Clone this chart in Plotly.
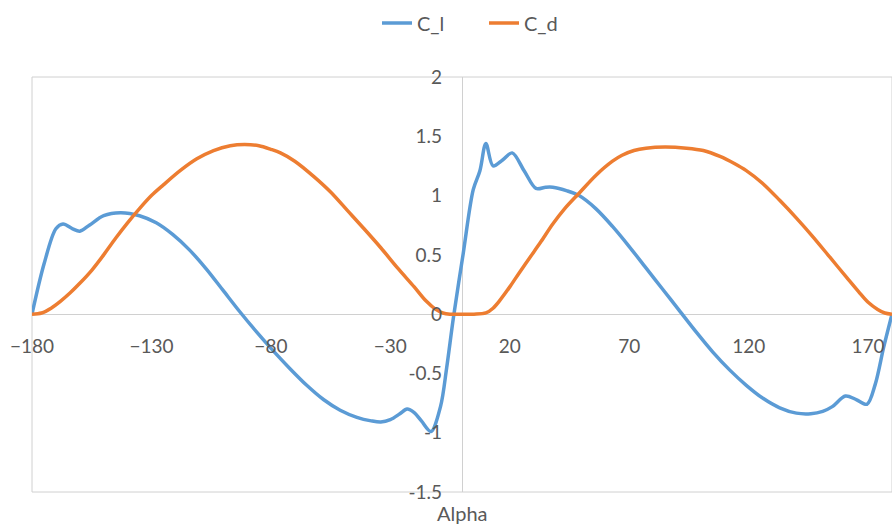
import plotly.graph_objects as go

# ---- data ----
alpha_cl = [-180, -175, -170, -167, -163, -160, -156, -150, -143, -135, -128, -121, -114, -107,
            -100, -93, -86, -79, -72, -65, -58, -51, -44, -38, -34, -30, -26, -23, -20, -17, -13,
            -9, -6.4, -3.6, 0.5, 4.7, 7.5, 10, 13, 17, 21, 26, 31, 35, 38, 44, 49, 56, 63, 70, 77,
            84, 91, 98, 105, 112, 119, 126, 133, 140, 146, 151, 155, 160.5, 165, 169.5, 173, 176.5, 180]
cl = [0, 0.42, 0.72, 0.76, 0.72, 0.70, 0.75, 0.83, 0.855, 0.83, 0.77, 0.67, 0.54, 0.38,
      0.20, 0.02, -0.15, -0.31, -0.46, -0.60, -0.72, -0.81, -0.87, -0.90, -0.91, -0.89, -0.84, -0.80, -0.83, -0.90, -0.99,
      -0.78, -0.45, -0.03, 0.51, 1.05, 1.21, 1.44, 1.25, 1.30, 1.36, 1.21, 1.06, 1.07, 1.07, 1.04, 1.00, 0.89, 0.74, 0.57, 0.39,
      0.21, 0.03, -0.15, -0.32, -0.47, -0.60, -0.71, -0.79, -0.835, -0.84, -0.82, -0.78, -0.69, -0.72, -0.76, -0.59, -0.28, 0]

alpha_cd = [-180, -176, -172, -168, -164, -160, -155, -150, -145, -140, -135, -130, -125, -118,
            -111, -104, -97, -91, -85, -80, -76, -70, -62, -55, -48, -41, -34, -27, -20, -15,
            -11, -8, -5, 0, 5, 10, 13, 16, 20, 24, 28.5, 33, 38, 43, 49, 56, 63, 67, 72, 77, 85, 94,
            101, 108, 114, 119, 126, 133, 140, 147, 154, 161, 166, 170, 174, 177, 180]
cd = [0, 0.01, 0.05, 0.11, 0.18, 0.26, 0.37, 0.50, 0.64, 0.77, 0.89, 1.00, 1.09, 1.21,
      1.31, 1.38, 1.42, 1.43, 1.42, 1.39, 1.36, 1.29, 1.16, 1.03, 0.875, 0.72, 0.56, 0.39, 0.23, 0.11,
      0.04, 0.01, 0, 0, 0, 0.01, 0.05, 0.12, 0.23, 0.35, 0.48, 0.61, 0.76, 0.89, 1.02, 1.17, 1.29, 1.34, 1.38, 1.40, 1.41, 1.40,
      1.38, 1.33, 1.27, 1.21, 1.10, 0.96, 0.81, 0.65, 0.48, 0.31, 0.19, 0.10, 0.04, 0.01, 0]

x_ticks = [-180, -130, -80, -30, 20, 70, 120, 170]
y_ticks = [-1.5, -1, -0.5, 0, 0.5, 1, 1.5, 2]
y_tick_labels = ["-1.5", "-1", "-0.5", "0", "0.5", "1", "1.5", "2"]

GREY = "#595959"
AXIS = "#D0D0D0"
FONT = "Lato"

fig = go.Figure()
fig.add_trace(go.Scatter(x=alpha_cl, y=cl, name="C_l", mode="lines",
                         line=dict(color="#5B9BD5", width=3.5, shape="spline", smoothing=0.9)))
fig.add_trace(go.Scatter(x=alpha_cd, y=cd, name="C_d", mode="lines",
                         line=dict(color="#ED7D31", width=3.5, shape="spline", smoothing=0.9)))

fig.update_layout(
    width=892, height=529,
    margin=dict(l=32, r=0, t=77, b=37),
    paper_bgcolor="white", plot_bgcolor="white",
    font=dict(family=FONT, size=16, color=GREY),
    showlegend=True,
    legend=dict(orientation="h", x=(377 - 32) / 860, xanchor="left", y=1.13, yanchor="middle",
                font=dict(size=20, color=GREY), entrywidth=62, entrywidthmode="pixels"),
    xaxis=dict(range=[-180, 180], tickvals=x_ticks, showgrid=False,
               zeroline=True, zerolinecolor=AXIS, zerolinewidth=1,
               showline=False, anchor="free", position=(0 - (-1.5)) / 3.5,
               ticks="", ticklabelstandoff=19, tickfont=dict(size=19, color=GREY)),
    yaxis=dict(range=[-1.5, 2], tickvals=y_ticks, ticktext=y_tick_labels, showgrid=False,
               zeroline=True, zerolinecolor=AXIS, zerolinewidth=1,
               showline=False, anchor="free", position=0.5,
               ticks="", ticklabelstandoff=20, tickfont=dict(size=19, color=GREY)),
    shapes=[dict(type="rect", xref="paper", yref="paper", x0=0, y0=0, x1=1, y1=1,
                 line=dict(color=AXIS, width=1), layer="below")],
    annotations=[dict(text="Alpha", xref="paper", yref="paper", x=0.5, y=-0.0506,
                      xanchor="center", yanchor="middle", showarrow=False,
                      font=dict(size=20, color=GREY))],
)

fig.write_html("out.html", config={"displayModeBar": False},
               post_script="document.body.style.margin='0';")
